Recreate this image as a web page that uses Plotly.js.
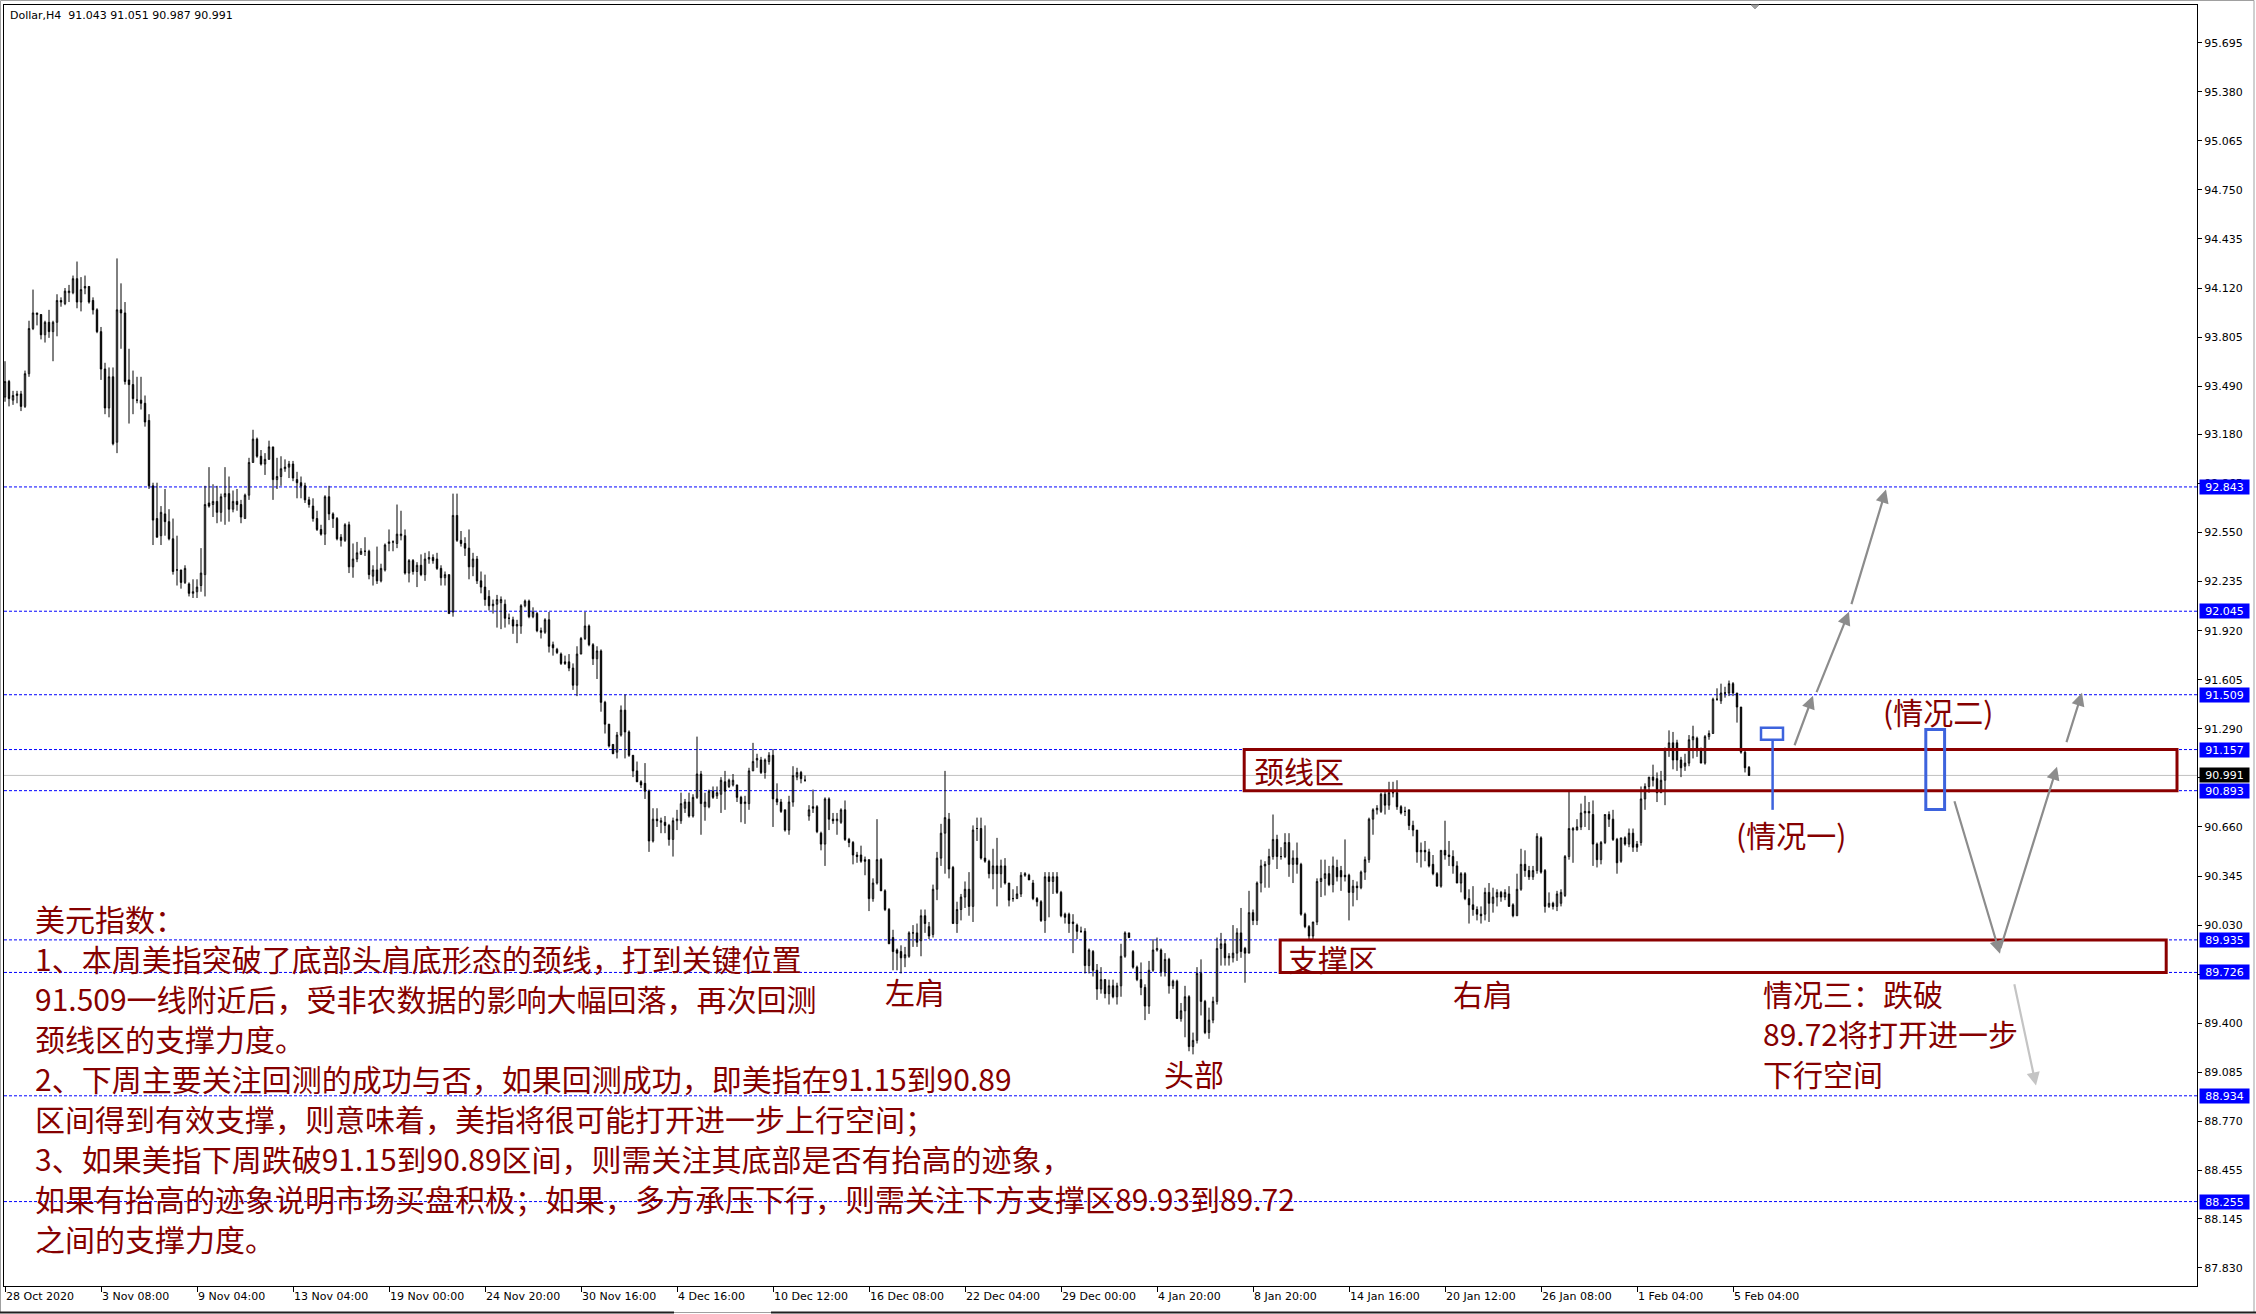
<!DOCTYPE html>
<html><head><meta charset="utf-8">
<script src="https://cdn.plot.ly/plotly-3.0.1.min.js"></script>
<style>html,body{margin:0;padding:0;background:#fff;}#chart{width:2256px;height:1314px;}</style>
</head><body><div id="chart"></div>
<script>
const symbol = "Dollar,H4";
const open = [
93.42,93.52,93.40,93.43,93.44,93.36,93.57,93.86,93.95,93.95,
93.82,93.90,93.84,93.90,94.04,94.02,94.09,94.09,94.18,94.03,
94.12,94.13,94.04,93.98,93.84,93.60,93.35,93.55,93.13,93.98,
93.96,93.53,93.50,93.40,93.40,93.38,93.27,92.85,92.64,92.53,
92.67,92.62,92.51,92.31,92.31,92.23,92.22,92.16,92.17,92.21,
92.28,92.74,92.73,92.75,92.68,92.78,92.80,92.70,92.75,92.73,
92.64,92.79,93.00,93.15,93.04,92.99,93.02,93.10,92.89,92.91,
92.96,92.97,92.99,92.89,92.87,92.85,92.76,92.72,92.64,92.57,
92.54,92.78,92.67,92.64,92.52,92.50,92.60,92.33,92.38,92.41,
92.43,92.43,92.27,92.31,92.24,92.31,92.48,92.49,92.48,92.53,
92.53,92.29,92.37,92.30,92.34,92.28,92.38,92.39,92.38,92.32,
92.26,92.28,92.04,92.66,92.50,92.48,92.45,92.33,92.38,92.24,
92.20,92.14,92.08,92.09,92.10,92.09,92.00,91.99,91.95,91.95,
92.08,92.11,92.01,92.03,91.92,91.91,91.99,91.83,91.80,91.77,
91.72,91.72,91.68,91.57,91.77,91.87,91.95,91.83,91.74,91.79,
91.46,91.32,91.19,91.14,91.25,91.41,91.27,91.12,91.02,90.95,
90.94,90.89,90.57,90.71,90.69,90.69,90.67,90.58,90.70,90.70,
90.78,90.82,90.73,90.85,91.00,90.79,90.79,90.89,90.86,90.87,
90.95,90.92,90.93,90.93,90.85,90.81,90.81,91.02,91.09,91.09,
91.01,91.08,91.12,90.84,90.82,90.77,90.64,90.82,90.98,91.01,
90.96,90.73,90.79,90.79,90.62,90.55,90.84,90.71,90.70,90.69,
90.77,90.58,90.56,90.48,90.48,90.45,90.45,90.20,90.30,90.45,
90.25,90.13,89.95,89.87,89.86,89.82,89.83,89.98,89.98,89.93,
90.09,90.02,89.97,90.26,90.46,90.62,90.71,90.40,90.04,90.13,
90.21,90.26,90.15,90.65,90.65,90.46,90.44,90.36,90.41,90.36,
90.41,90.30,90.20,90.20,90.23,90.35,90.35,90.30,90.20,90.18,
90.06,90.34,90.31,90.34,90.24,90.10,90.10,90.05,90.03,89.99,
89.99,89.77,89.86,89.74,89.62,89.68,89.59,89.64,89.57,89.64,
89.83,89.98,89.86,89.76,89.68,89.63,89.51,89.74,89.87,89.87,
89.73,89.81,89.64,89.67,89.43,89.48,89.57,89.25,89.29,89.72,
89.54,89.34,89.42,89.54,89.88,89.91,89.82,89.82,89.85,89.98,
89.88,89.85,90.11,90.06,90.30,90.41,90.42,90.47,90.58,90.47,
90.47,90.56,90.42,90.46,90.42,90.10,90.02,89.96,90.05,90.31,
90.33,90.36,90.29,90.40,90.38,90.35,90.35,90.24,90.28,90.27,
90.37,90.45,90.71,90.77,90.76,90.87,90.80,90.88,90.88,90.79,
90.76,90.77,90.67,90.64,90.50,90.51,90.50,90.42,90.36,90.28,
90.51,90.48,90.47,90.41,90.30,90.36,90.20,90.16,90.13,90.10,
90.10,90.24,90.17,90.21,90.24,90.21,90.23,90.16,90.09,90.26,
90.42,90.38,90.34,90.38,90.59,90.38,90.15,90.17,90.15,90.17,
90.22,90.47,90.64,90.64,90.66,90.75,90.76,90.74,90.55,90.45,
90.56,90.74,90.71,90.58,90.44,90.59,90.55,90.62,90.55,90.56,
90.84,90.92,90.98,90.97,90.88,90.96,91.16,91.20,91.20,91.09,
91.05,91.07,91.22,91.23,91.15,91.07,91.24,91.26,91.48,91.47,
91.52,91.52,91.58,91.52,91.43,91.14,91.043];
const high = [
93.65,93.53,93.46,93.46,93.46,93.59,93.91,94.11,93.96,93.95,
93.91,93.98,93.91,94.08,94.06,94.12,94.14,94.20,94.29,94.19,
94.20,94.13,94.06,93.99,93.87,93.64,93.61,93.61,94.31,94.15,
94.03,93.73,93.59,93.55,93.55,93.43,93.31,92.87,92.87,92.72,
92.83,92.70,92.64,92.53,92.31,92.34,92.23,92.25,92.25,92.45,
92.85,92.97,92.86,92.85,92.80,92.97,92.91,92.82,92.83,92.76,
92.80,93.03,93.21,93.16,93.08,93.06,93.14,93.10,93.03,93.04,
93.02,93.01,93.01,92.94,92.91,92.87,92.78,92.77,92.69,92.60,
92.79,92.85,92.68,92.65,92.54,92.61,92.62,92.48,92.49,92.45,
92.52,92.44,92.34,92.46,92.35,92.48,92.57,92.50,92.73,92.69,
92.57,92.38,92.38,92.36,92.41,92.42,92.43,92.41,92.42,92.34,
92.30,92.28,92.80,92.80,92.56,92.52,92.57,92.42,92.40,92.30,
92.28,92.18,92.12,92.15,92.14,92.12,92.03,92.01,91.99,92.09,
92.12,92.12,92.07,92.04,91.94,92.00,92.04,91.85,91.81,91.78,
91.76,91.77,91.71,91.82,91.88,92.04,91.96,91.84,91.82,91.80,
91.47,91.32,91.19,91.27,91.44,91.51,91.28,91.12,91.08,90.96,
91.07,90.90,90.78,90.78,90.72,90.73,90.68,90.72,90.77,90.88,
90.84,90.88,90.87,91.24,91.02,90.88,90.90,90.92,90.92,90.98,
91.02,90.97,91.00,90.93,90.86,90.86,91.04,91.20,91.13,91.11,
91.10,91.14,91.16,90.94,90.84,90.77,90.86,91.05,91.04,91.02,
90.99,90.80,90.90,90.80,90.63,90.85,90.85,90.75,90.75,90.78,
90.83,90.59,90.57,90.50,90.54,90.47,90.45,90.33,90.71,90.46,
90.26,90.14,90.00,89.88,89.90,89.89,89.99,90.03,90.04,90.13,
90.13,90.05,90.29,90.50,90.68,91.02,90.75,90.41,90.18,90.23,
90.31,90.37,90.67,90.72,90.72,90.67,90.45,90.52,90.59,90.45,
90.46,90.30,90.26,90.28,90.37,90.37,90.36,90.32,90.21,90.19,
90.37,90.37,90.37,90.37,90.25,90.11,90.11,90.10,90.04,90.02,
90.01,89.88,89.87,89.78,89.76,89.68,89.68,89.68,89.66,89.91,
89.99,89.98,89.87,89.77,89.79,89.65,89.80,89.94,89.95,89.88,
89.85,89.82,89.68,89.68,89.53,89.64,89.58,89.34,89.76,89.81,
89.55,89.50,89.57,89.95,89.98,89.94,89.85,90.03,90.01,90.14,
89.89,90.25,90.13,90.31,90.45,90.44,90.52,90.74,90.61,90.53,
90.62,90.62,90.51,90.56,90.43,90.11,90.03,90.05,90.33,90.45,
90.45,90.41,90.47,90.45,90.41,90.58,90.36,90.32,90.31,90.38,
90.47,90.72,90.78,90.80,90.88,90.89,90.95,90.95,90.96,90.80,
90.79,90.77,90.70,90.64,90.56,90.57,90.52,90.48,90.37,90.51,
90.70,90.57,90.51,90.44,90.37,90.37,90.26,90.28,90.15,90.15,
90.27,90.30,90.27,90.26,90.25,90.26,90.28,90.17,90.36,90.52,
90.51,90.41,90.41,90.62,90.60,90.39,90.24,90.18,90.25,90.26,
90.48,90.89,90.66,90.71,90.81,90.86,90.82,90.83,90.56,90.57,
90.74,90.76,90.77,90.59,90.59,90.60,90.65,90.65,90.57,90.92,
90.94,90.98,91.06,91.01,91.02,91.17,91.28,91.27,91.22,91.11,
91.13,91.25,91.31,91.24,91.17,91.25,91.28,91.49,91.55,91.58,
91.56,91.60,91.59,91.52,91.43,91.15,91.051];
const low = [
93.39,93.36,93.37,93.38,93.33,93.35,93.55,93.85,93.88,93.79,
93.77,93.80,93.65,93.81,94.00,94.01,94.03,94.08,93.99,93.97,
94.08,94.02,93.95,93.83,93.53,93.31,93.29,93.11,93.06,93.73,
93.50,93.25,93.31,93.38,93.34,93.23,92.83,92.47,92.52,92.47,
92.53,92.50,92.28,92.21,92.19,92.22,92.14,92.13,92.13,92.17,
92.14,92.71,92.65,92.61,92.62,92.60,92.62,92.68,92.69,92.61,
92.64,92.76,93.00,93.03,92.98,92.92,93.02,92.76,92.83,92.85,
92.94,92.90,92.88,92.77,92.77,92.74,92.71,92.62,92.56,92.53,
92.47,92.63,92.58,92.50,92.46,92.49,92.29,92.26,92.36,92.41,
92.40,92.25,92.21,92.22,92.23,92.30,92.43,92.43,92.45,92.50,
92.28,92.23,92.28,92.20,92.27,92.24,92.35,92.35,92.31,92.21,
92.21,92.03,92.01,92.49,92.46,92.40,92.25,92.27,92.22,92.16,
92.08,92.05,92.03,91.94,91.93,91.94,91.96,91.90,91.84,91.90,
92.07,92.00,92.00,91.91,91.87,91.90,91.78,91.76,91.77,91.70,
91.70,91.66,91.54,91.50,91.77,91.86,91.82,91.70,91.61,91.40,
91.26,91.17,91.13,91.10,91.24,91.10,91.11,90.98,90.95,90.91,
90.84,90.50,90.56,90.66,90.62,90.62,90.54,90.47,90.64,90.68,
90.75,90.72,90.72,90.84,90.61,90.70,90.78,90.84,90.84,90.75,
90.77,90.91,90.92,90.82,90.69,90.68,90.77,91.02,91.04,91.00,
90.97,91.06,90.66,90.80,90.75,90.63,90.61,90.79,90.96,90.94,
90.95,90.70,90.75,90.62,90.51,90.41,90.64,90.68,90.61,90.68,
90.57,90.53,90.42,90.43,90.43,90.35,90.12,90.18,90.29,90.25,
90.12,89.91,89.74,89.74,89.72,89.76,89.82,89.89,89.89,89.83,
89.98,89.94,89.95,90.19,90.41,90.36,90.33,90.04,89.98,90.06,
90.14,90.09,90.05,90.57,90.45,90.43,90.33,90.26,90.15,90.27,
90.29,90.15,90.18,90.20,90.21,90.34,90.32,90.19,90.15,90.05,
89.98,90.08,90.23,90.23,90.08,90.04,89.98,89.85,89.94,89.98,
89.72,89.72,89.70,89.55,89.59,89.56,89.52,89.56,89.52,89.57,
89.82,89.95,89.75,89.67,89.58,89.42,89.46,89.73,89.86,89.70,
89.70,89.59,89.62,89.43,89.41,89.31,89.22,89.20,89.27,89.45,
89.33,89.30,89.40,89.52,89.77,89.77,89.77,89.79,89.80,89.82,
89.66,89.85,90.03,90.03,90.24,90.27,90.27,90.45,90.39,90.45,
90.46,90.34,90.30,90.36,90.09,90.01,89.94,89.94,90.03,90.21,
90.22,90.28,90.24,90.31,90.25,90.31,90.06,90.15,90.19,90.26,
90.32,90.43,90.61,90.74,90.75,90.74,90.77,90.85,90.77,90.74,
90.73,90.64,90.60,90.43,90.40,90.44,90.40,90.35,90.28,90.27,
90.45,90.41,90.36,90.30,90.24,90.19,90.04,90.09,90.06,90.04,
90.06,90.05,90.11,90.15,90.18,90.19,90.15,90.08,90.09,90.25,
90.34,90.32,90.32,90.36,90.36,90.11,90.14,90.13,90.12,90.15,
90.21,90.45,90.43,90.64,90.64,90.66,90.64,90.41,90.40,90.42,
90.55,90.66,90.57,90.36,90.43,90.54,90.53,90.50,90.50,90.54,
90.77,90.88,90.92,90.82,90.88,90.80,91.11,91.03,91.02,90.98,
91.02,91.05,91.10,91.11,91.07,91.06,91.22,91.26,91.47,91.45,
91.49,91.50,91.50,91.33,91.13,91.01,90.987];
const close = [
93.52,93.41,93.43,93.44,93.36,93.57,93.86,93.96,93.96,93.82,
93.90,93.84,93.90,94.04,94.03,94.10,94.10,94.18,94.03,94.11,
94.13,94.03,93.98,93.84,93.60,93.35,93.55,93.12,93.98,93.96,
93.52,93.50,93.41,93.40,93.38,93.26,92.85,92.63,92.52,92.68,
92.62,92.51,92.30,92.31,92.23,92.32,92.16,92.17,92.20,92.29,
92.73,92.72,92.75,92.68,92.78,92.80,92.70,92.75,92.73,92.65,
92.79,93.00,93.15,93.04,92.99,93.02,93.10,92.89,92.91,92.96,
92.97,92.99,92.90,92.87,92.85,92.76,92.73,92.64,92.57,92.54,
92.78,92.67,92.64,92.51,92.50,92.60,92.33,92.38,92.42,92.43,
92.43,92.28,92.31,92.24,92.32,92.47,92.49,92.49,92.54,92.54,
92.29,92.37,92.30,92.34,92.28,92.38,92.39,92.37,92.32,92.26,
92.28,92.03,92.66,92.50,92.48,92.45,92.33,92.38,92.24,92.20,
92.12,92.08,92.09,92.12,92.12,92.00,92.00,91.95,91.96,92.08,
92.11,92.01,92.04,91.92,91.91,91.99,91.82,91.81,91.78,91.71,
91.71,91.68,91.57,91.77,91.87,91.95,91.83,91.74,91.79,91.46,
91.32,91.18,91.13,91.25,91.41,91.27,91.12,91.02,90.95,90.93,
90.89,90.57,90.71,90.70,90.70,90.67,90.58,90.70,90.71,90.81,
90.82,90.73,90.85,91.00,90.81,90.82,90.89,90.85,90.88,90.96,
90.89,90.96,90.96,90.85,90.81,90.82,91.02,91.08,91.10,91.01,
91.09,91.12,90.84,90.82,90.76,90.64,90.82,90.99,91.01,90.97,
90.96,90.77,90.78,90.63,90.55,90.84,90.71,90.70,90.71,90.77,
90.58,90.56,90.48,90.47,90.44,90.44,90.20,90.30,90.45,90.25,
90.13,89.91,89.86,89.85,89.82,89.84,89.98,89.98,89.92,90.09,
90.04,89.96,90.26,90.46,90.62,90.72,90.39,90.04,90.13,90.21,
90.26,90.15,90.64,90.65,90.46,90.44,90.36,90.41,90.36,90.41,
90.30,90.19,90.20,90.23,90.35,90.36,90.32,90.20,90.18,90.06,
90.34,90.31,90.34,90.24,90.09,90.08,90.04,90.04,89.99,89.99,
89.77,89.87,89.74,89.62,89.68,89.59,89.64,89.57,89.64,89.83,
89.98,89.95,89.76,89.68,89.63,89.51,89.74,89.87,89.88,89.73,
89.81,89.64,89.67,89.43,89.48,89.57,89.25,89.29,89.72,89.54,
89.34,89.42,89.54,89.88,89.91,89.82,89.83,89.85,89.98,89.86,
89.85,90.11,90.06,90.30,90.41,90.42,90.47,90.58,90.47,90.47,
90.56,90.42,90.46,90.42,90.10,90.02,89.96,90.05,90.31,90.33,
90.36,90.29,90.41,90.34,90.34,90.34,90.24,90.28,90.27,90.37,
90.45,90.71,90.77,90.78,90.87,90.80,90.88,90.88,90.79,90.75,
90.76,90.67,90.64,90.50,90.51,90.50,90.41,90.36,90.28,90.51,
90.48,90.47,90.41,90.30,90.36,90.20,90.16,90.13,90.10,90.09,
90.24,90.17,90.21,90.24,90.21,90.24,90.15,90.09,90.26,90.42,
90.38,90.34,90.38,90.60,90.37,90.15,90.17,90.15,90.23,90.24,
90.47,90.65,90.65,90.66,90.75,90.76,90.75,90.55,90.45,90.56,
90.74,90.71,90.58,90.43,90.59,90.55,90.62,90.53,90.53,90.84,
90.92,90.98,90.96,90.88,90.96,91.16,91.20,91.09,91.09,91.04,
91.07,91.22,91.24,91.15,91.07,91.24,91.26,91.48,91.48,91.52,
91.52,91.58,91.52,91.43,91.14,91.04,90.991];

const tickLabels = ["28 Oct 2020","3 Nov 08:00","9 Nov 04:00","13 Nov 04:00","19 Nov 00:00","24 Nov 20:00","30 Nov 16:00","4 Dec 16:00","10 Dec 12:00","16 Dec 08:00","22 Dec 04:00","29 Dec 00:00","4 Jan 20:00","8 Jan 20:00","14 Jan 16:00","20 Jan 12:00","26 Jan 08:00","1 Feb 04:00","5 Feb 04:00"];
const tickBars = [0,24,48,72,96,120,144,168,192,216,240,264,288,312,336,360,384,408,432];
const priceTicks = [95.695,95.380,95.065,94.750,94.435,94.120,93.805,93.490,93.180,92.865,92.550,92.235,91.920,91.605,91.290,90.975,90.660,90.345,90.030,89.715,89.400,89.085,88.770,88.455,88.145,87.830];
const levels = [92.843,92.045,91.509,91.157,90.893,89.935,89.726,88.934,88.255];
const neckZone = [90.893, 91.157];
const supportZone = [89.726, 89.935];

const noteLines = [
"美元指数：",
"1、本周美指突破了底部头肩底形态的颈线，打到关键位置",
"91.509一线附近后，受非农数据的影响大幅回落，再次回测",
"颈线区的支撑力度。",
"2、下周主要关注回测的成功与否，如果回测成功，即美指在91.15到90.89",
"区间得到有效支撑，则意味着，美指将很可能打开进一步上行空间；",
"3、如果美指下周跌破91.15到90.89区间，则需关注其底部是否有抬高的迹象，",
"如果有抬高的迹象说明市场买盘积极；如果，多方承压下行，则需关注下方支撑区89.93到89.72",
"之间的支撑力度。"
];
const case3Lines = ["情况三：跌破","89.72将打开进一步","下行空间"];

// ---------- layout helpers ----------
const W = 2256, H = 1314, L = 4, R = 2197, T = 5, B = 1286;
const px = x => (x - L) / (R - L);
const py = y => (B - y) / (B - T);
const RED = '#850000', CJK = '"Noto Sans CJK SC", sans-serif', BLUE = '#3d63dd';
const idx = open.map((_, i) => i);
const last = open.length - 1;
const bid = close[last];

const trace = {
  type: 'candlestick', x: idx, open: open, high: high, low: low, close: close,
  increasing: {line: {color: '#000', width: 1}, fillcolor: '#ffffff'},
  decreasing: {line: {color: '#000', width: 1}, fillcolor: '#000000'},
  whiskerwidth: 0, hoverinfo: 'skip', showlegend: false
};

const shapes = [];
levels.forEach(v => shapes.push({type: 'line', xref: 'paper', x0: 0, x1: 1, yref: 'y', y0: v, y1: v,
  line: {color: '#0000ff', width: 1, dash: '3px,2px'}, layer: 'below'}));
shapes.push({type: 'line', xref: 'paper', x0: 0, x1: 1, yref: 'y', y0: bid, y1: bid,
  line: {color: '#c0c0c0', width: 1}, layer: 'below'});
// zone boxes
shapes.push({type: 'rect', xref: 'x', yref: 'y', x0: 309.8, x1: 543, y0: neckZone[0], y1: neckZone[1],
  line: {color: '#8b0000', width: 3}});
shapes.push({type: 'rect', xref: 'x', yref: 'y', x0: 318.8, x1: 540.3, y0: supportZone[0], y1: supportZone[1],
  line: {color: '#8b0000', width: 3}});
// blue scenario markers
shapes.push({type: 'rect', xref: 'x', yref: 'y', x0: 439, x1: 444.5, y0: 91.22, y1: 91.297,
  line: {color: BLUE, width: 2.5}});
shapes.push({type: 'line', xref: 'x', yref: 'y', x0: 441.9, x1: 441.9, y0: 91.22, y1: 90.77,
  line: {color: BLUE, width: 2.5}});
shapes.push({type: 'rect', xref: 'x', yref: 'y', x0: 480.2, x1: 484.9, y0: 90.772, y1: 91.286,
  line: {color: BLUE, width: 3}});
// window frame
shapes.push({type: 'rect', xref: 'paper', yref: 'paper', x0: px(0.5), x1: px(2254), y0: py(1312.5), y1: py(0.5),
  line: {color: '#a0a0a0', width: 1}});
shapes.push({type: 'line', xref: 'paper', yref: 'paper', x0: px(0), x1: px(674), y0: py(1312.5), y1: py(1312.5),
  line: {color: '#202020', width: 2}});
shapes.push({type: 'line', xref: 'paper', yref: 'paper', x0: px(771), x1: px(2256), y0: py(1312.5), y1: py(1312.5),
  line: {color: '#202020', width: 2}});
// chart shift marker
shapes.push({type: 'path', xref: 'paper', yref: 'paper',
  path: `M ${px(1751)} ${py(5)} L ${px(1759)} ${py(5)} L ${px(1755)} ${py(9)} Z`,
  fillcolor: '#a0a0a0', line: {color: '#a0a0a0', width: 1}});

const annotations = [];
// header
annotations.push({xref: 'paper', yref: 'paper', x: px(8), y: py(15), xanchor: 'left', yanchor: 'middle',
  showarrow: false, text: symbol + '\u00a0\u00a0' + [open[last], high[last], low[last], close[last]].map(v => v.toFixed(3)).join(' '),
  font: {family: 'DejaVu Sans', size: 11, color: '#000'}});
// price level labels on right axis
levels.forEach(v => annotations.push({xref: 'paper', x: 1, xshift: 2, xanchor: 'left', yref: 'y', y: v, yanchor: 'middle',
  showarrow: false, text: v.toFixed(3), bgcolor: '#0000ff', width: 45, height: 10, borderpad: 2, align: 'center',
  font: {family: 'DejaVu Sans', size: 11, color: '#ffffff'}}));
annotations.push({xref: 'paper', x: 1, xshift: 2, xanchor: 'left', yref: 'y', y: bid, yanchor: 'middle',
  showarrow: false, text: bid.toFixed(3), bgcolor: '#000000', width: 45, height: 10, borderpad: 2, align: 'center',
  font: {family: 'DejaVu Sans', size: 11, color: '#ffffff'}});

function txt(t, x, y, anchor) {
  annotations.push({xref: 'paper', yref: 'paper', x: px(x), y: py(y), xanchor: anchor || 'left', yanchor: 'middle',
    showarrow: false, text: t, borderpad: 0, font: {family: CJK, size: 30, color: RED}});
}
// main commentary block, one line per annotation, 40px apart
noteLines.forEach((t, k) => txt(t, 34, 918 + 40 * k));
txt('左肩', 915, 991, 'center');
txt('头部', 1194, 1073, 'center');
txt('右肩', 1483, 993, 'center');
txt('颈线区', 1253, 770);
txt('支撑区', 1287, 958);
txt('(情况一)', 1735, 834);
txt('(情况二)', 1882, 711);
case3Lines.forEach((t, k) => txt(t, 1762, 993 + 40 * k));

// arrows (tail -> head in bar index / price)
const arrows = [
  [447.25, 91.175, 452.0, 91.503, '#8c8c8c'],
  [452.75, 91.516, 461.0, 92.042, '#8c8c8c'],
  [461.5, 92.081, 470.25, 92.826, '#8c8c8c'],
  [487.25, 90.835, 498.75, 89.846, '#8c8c8c'],
  [498.75, 89.872, 513.0, 91.047, '#8c8c8c'],
  [515.25, 91.195, 519.25, 91.522, '#8c8c8c'],
  [502.25, 89.660, 507.75, 89.000, '#c4c4c4']
];
arrows.forEach(a => annotations.push({xref: 'x', yref: 'y', axref: 'x', ayref: 'y', x: a[2], y: a[3], ax: a[0], ay: a[1],
  text: '', showarrow: true, arrowhead: 2, arrowsize: 1.2, arrowwidth: 2.2, arrowcolor: a[4]}));

const layout = {
  width: W, height: H, margin: {l: L, r: W - R, t: T, b: H - B},
  paper_bgcolor: '#ffffff', plot_bgcolor: '#ffffff', showlegend: false, boxgap: 0.5,
  font: {family: 'DejaVu Sans', size: 11, color: '#000'},
  xaxis: {range: [-0.25, 548], rangeslider: {visible: false}, showgrid: false, zeroline: false,
    showline: true, linecolor: '#000', linewidth: 1, mirror: true,
    tickmode: 'array', tickvals: tickBars, ticktext: tickLabels, ticks: 'outside', ticklen: 5, tickcolor: '#000',
    ticklabelposition: 'outside right', tickfont: {family: 'DejaVu Sans', size: 11, color: '#000'}, fixedrange: true},
  yaxis: {range: [87.713, 95.937], side: 'right', showgrid: false, zeroline: false,
    showline: true, linecolor: '#000', linewidth: 1, mirror: true,
    tickmode: 'array', tickvals: priceTicks, tickformat: '.3f', ticks: 'outside', ticklen: 4, tickcolor: '#000',
    tickfont: {family: 'DejaVu Sans', size: 11, color: '#000'}, fixedrange: true},
  shapes: shapes, annotations: annotations
};
Plotly.newPlot('chart', [trace], layout, {staticPlot: true, displayModeBar: false});
</script></body></html>
